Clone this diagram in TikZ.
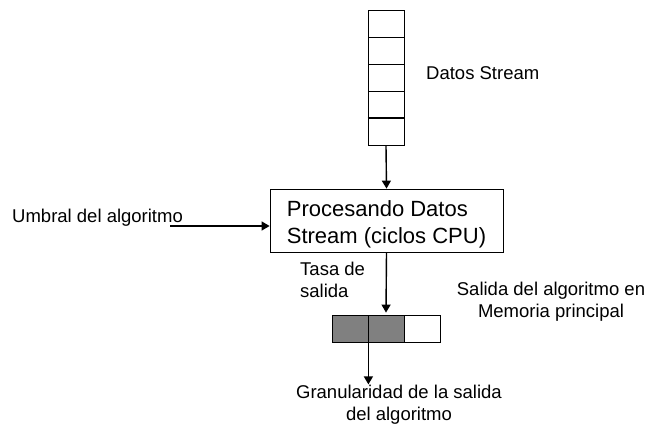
\documentclass[tikz,border=0pt]{standalone}
\usepackage{fontspec}
\setmainfont{Liberation Sans}
\usetikzlibrary{arrows.meta}
\begin{document}
\begin{tikzpicture}
[x=1pt,y=-1pt,
>={Triangle[width=9pt,length=8pt]},
arrow/.style={->,line width=1.4pt},
cell/.style={draw,line width=0.8pt,minimum width=36pt,minimum height=27pt,inner sep=0pt},
lbl/.style={font=\fontsize{18.5}{22}\selectfont,inner sep=0pt},
procbox/.style={draw,line width=0.8pt,minimum width=233pt,minimum height=63pt,
  inner sep=0pt,align=left,text height=50pt,text depth=4pt,font=\fontsize{22}{27}\selectfont}]
  \useasboundingbox (0,0) rectangle (649,426);
  \foreach \i in {1,...,5}
    \node [cell] (s\i) at (386,{27*\i-3.5}) {};
  \draw [line width=2pt] (s4.south west) -- (s4.south east);
  \node [lbl, anchor=base west] (datos) at (426,79) {Datos Stream};
  \node [procbox] (proc) at (386.5,220.5) {Procesando Datos\\Stream (ciclos CPU)};
  \draw [arrow] (s5.south) -- (proc.north);
  \node [lbl, anchor=base west] (umbral) at (12,222) {Umbral del algoritmo};
  \coordinate (u) at (170,226);
  \draw [arrow] (u) -- (u -| proc.west);
  \node [cell, fill=black!50] (m1) at (350,328.5) {};
  \node [cell, fill=black!50] (m2) at (386,328.5) {};
  \node [cell] (m3) at (422,328.5) {};
  \draw [arrow] (proc.south) -- ([yshift=2pt]m2.north);
  \node [lbl, align=left, anchor=base west] (tasa) at (300,297) {Tasa de\\salida};
  \node [lbl, align=center, anchor=base] (mem) at (551,317) {Salida del algoritmo en\\Memoria principal};
  \node [lbl, align=center, anchor=base] (gran) at (399,420) {Granularidad de la salida\\del algoritmo};
  \draw [arrow] (m1.south east) -- (m1.south east |- gran.north);
\end{tikzpicture}
\end{document}
